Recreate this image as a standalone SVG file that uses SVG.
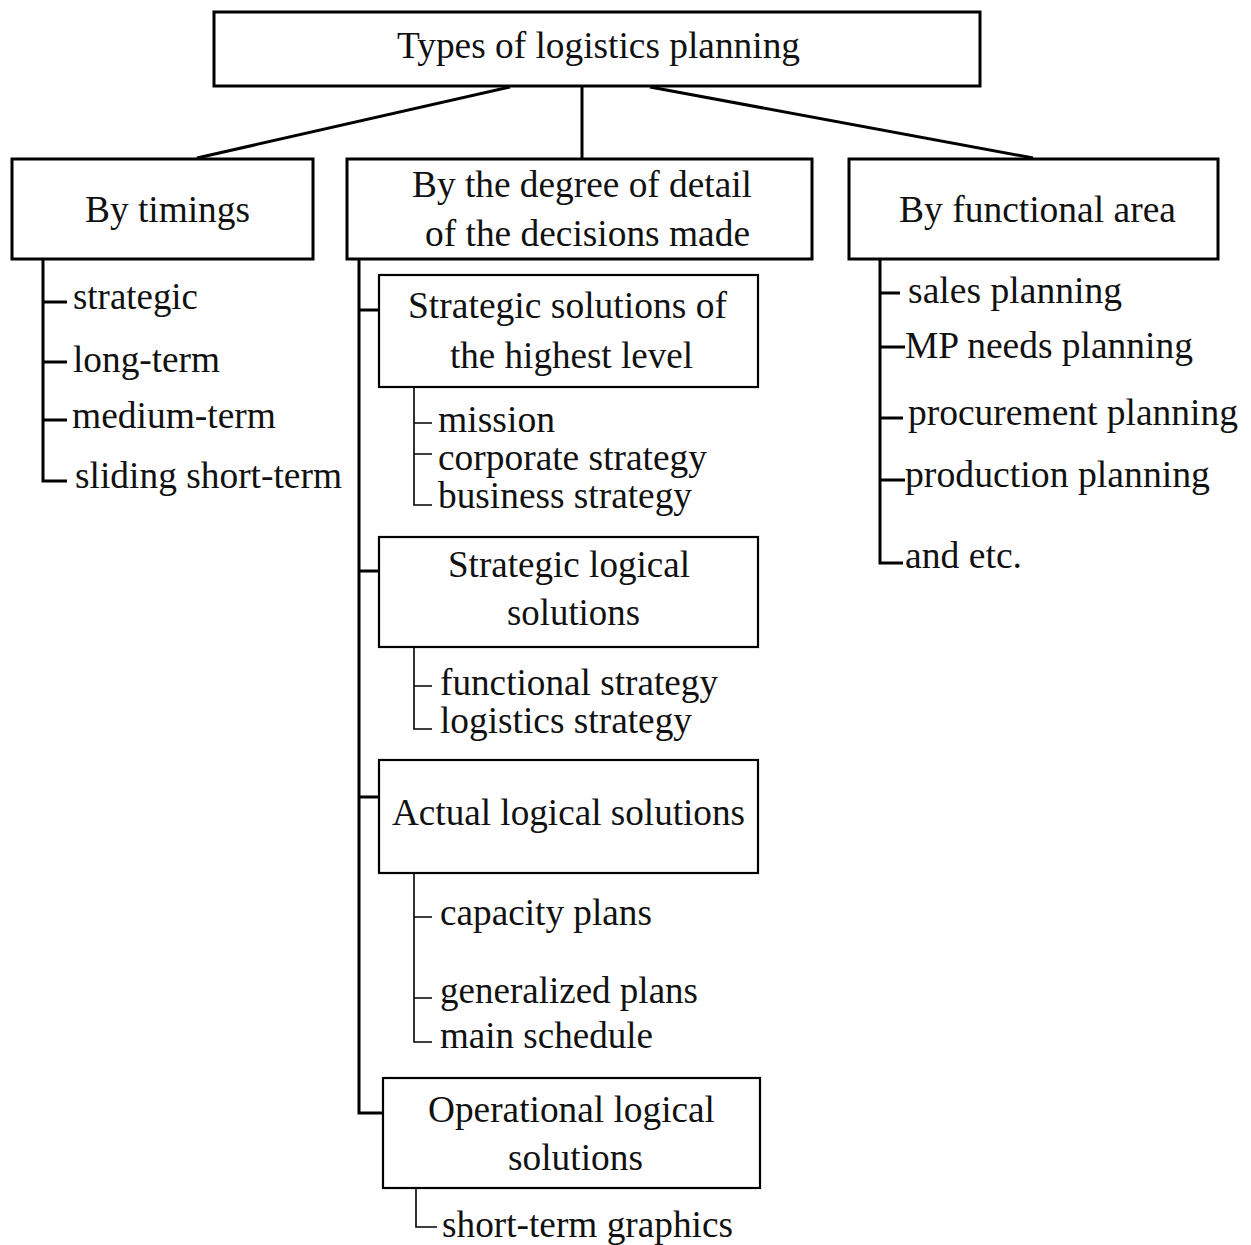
<svg xmlns="http://www.w3.org/2000/svg" width="1251" height="1245" viewBox="0 0 1251 1245">
  <style>
    .box { fill: #ffffff; stroke: #000000; stroke-width: 3; }
    .sub { fill: #ffffff; stroke: #000000; stroke-width: 2.2; }
    .main { fill: none; stroke: #000000; stroke-width: 3; }
    .thin { fill: none; stroke: #000000; stroke-width: 1.6; }
    text { font-family: "Liberation Serif", "Times New Roman", serif; font-size: 37px; fill: #111111; }
  </style>
  <rect width="1251" height="1245" fill="#ffffff"/>

  <!-- connectors -->
  <g id="connectors">
    <line class="main" x1="510" y1="87" x2="197" y2="158"/>
    <line class="main" x1="582" y1="86" x2="582" y2="159" stroke-width="2"/>
    <line class="main" x1="650" y1="87" x2="1033" y2="158" stroke-width="3.6"/>
    <!-- timings list -->
    <path class="main" d="M43,259 V481 H67 M43,302 H67 M43,362 H67 M43,420 H67"/>
    <!-- degree of detail spine -->
    <path class="main" d="M359,259 V1113 H383 M359,310 H379 M359,571 H379 M359,797 H379" stroke-width="3.4"/>
    <!-- sub lists -->
    <path class="thin" d="M414,387 V505 H432 M414,423 H432 M414,454 H432"/>
    <path class="thin" d="M414,647 V729 H432 M414,686 H432"/>
    <path class="thin" d="M414,873 V1042 H432 M414,917 H432 M414,998 H432"/>
    <path class="thin" d="M416,1188 V1227 H437"/>
    <!-- functional area list -->
    <path class="main" d="M880,259 V563 H903 M880,293 H900 M880,347 H905 M880,418 H903 M880,480 H905"/>
  </g>

  <g id="root">
    <rect class="box" x="214" y="12" width="766" height="74"/>
    <text x="397" y="58" textLength="403" lengthAdjust="spacingAndGlyphs">Types of logistics planning</text>
  </g>

  <g id="by-timings">
    <rect class="box" x="12" y="159" width="301" height="100"/>
    <text x="85" y="222" textLength="165" lengthAdjust="spacingAndGlyphs">By timings</text>
  </g>
  <g id="timings-items">
    <text x="73" y="309" textLength="125" lengthAdjust="spacingAndGlyphs">strategic</text>
    <text x="73" y="372" textLength="147" lengthAdjust="spacingAndGlyphs">long-term</text>
    <text x="72" y="428" textLength="204" lengthAdjust="spacingAndGlyphs">medium-term</text>
    <text x="75" y="488" textLength="267" lengthAdjust="spacingAndGlyphs">sliding short-term</text>
  </g>

  <g id="by-detail">
    <rect class="box" x="347" y="159" width="465" height="100"/>
    <text x="412" y="197" textLength="340" lengthAdjust="spacingAndGlyphs">By the degree of detail</text>
    <text x="425" y="246" textLength="325" lengthAdjust="spacingAndGlyphs">of the decisions made</text>
  </g>

  <g id="by-function">
    <rect class="box" x="849" y="159" width="369" height="100"/>
    <text x="899" y="222" textLength="277" lengthAdjust="spacingAndGlyphs">By functional area</text>
  </g>
  <g id="function-items">
    <text x="908" y="303" textLength="214" lengthAdjust="spacingAndGlyphs">sales planning</text>
    <text x="905" y="358" textLength="288" lengthAdjust="spacingAndGlyphs">MP needs planning</text>
    <text x="908" y="425" textLength="330" lengthAdjust="spacingAndGlyphs">procurement planning</text>
    <text x="905" y="487" textLength="305" lengthAdjust="spacingAndGlyphs">production planning</text>
    <text x="905" y="568" textLength="117" lengthAdjust="spacingAndGlyphs">and etc.</text>
  </g>

  <g id="strategic-highest">
    <rect class="sub" x="379" y="275" width="379" height="112"/>
    <text x="408" y="318" textLength="319" lengthAdjust="spacingAndGlyphs">Strategic solutions of</text>
    <text x="450" y="368" textLength="243" lengthAdjust="spacingAndGlyphs">the highest level</text>
  </g>
  <g id="strategic-highest-items">
    <text x="438" y="432" textLength="117" lengthAdjust="spacingAndGlyphs">mission</text>
    <text x="438" y="470" textLength="269" lengthAdjust="spacingAndGlyphs">corporate strategy</text>
    <text x="438" y="508" textLength="254" lengthAdjust="spacingAndGlyphs">business strategy</text>
  </g>

  <g id="strategic-logical">
    <rect class="sub" x="379" y="537" width="379" height="110"/>
    <text x="448" y="577" textLength="242" lengthAdjust="spacingAndGlyphs">Strategic logical</text>
    <text x="507" y="625" textLength="133" lengthAdjust="spacingAndGlyphs">solutions</text>
  </g>
  <g id="strategic-logical-items">
    <text x="440" y="695" textLength="278" lengthAdjust="spacingAndGlyphs">functional strategy</text>
    <text x="440" y="733" textLength="252" lengthAdjust="spacingAndGlyphs">logistics strategy</text>
  </g>

  <g id="actual-logical">
    <rect class="sub" x="379" y="760" width="379" height="113"/>
    <text x="392" y="825" textLength="353" lengthAdjust="spacingAndGlyphs">Actual logical solutions</text>
  </g>
  <g id="actual-logical-items">
    <text x="440" y="925" textLength="212" lengthAdjust="spacingAndGlyphs">capacity plans</text>
    <text x="440" y="1003" textLength="258" lengthAdjust="spacingAndGlyphs">generalized plans</text>
    <text x="440" y="1048" textLength="213" lengthAdjust="spacingAndGlyphs">main schedule</text>
  </g>

  <g id="operational-logical">
    <rect class="sub" x="383" y="1078" width="377" height="110"/>
    <text x="428" y="1122" textLength="287" lengthAdjust="spacingAndGlyphs">Operational logical</text>
    <text x="508" y="1170" textLength="135" lengthAdjust="spacingAndGlyphs">solutions</text>
  </g>
  <g id="operational-logical-items">
    <text x="442" y="1237" textLength="291" lengthAdjust="spacingAndGlyphs">short-term graphics</text>
  </g>
</svg>
